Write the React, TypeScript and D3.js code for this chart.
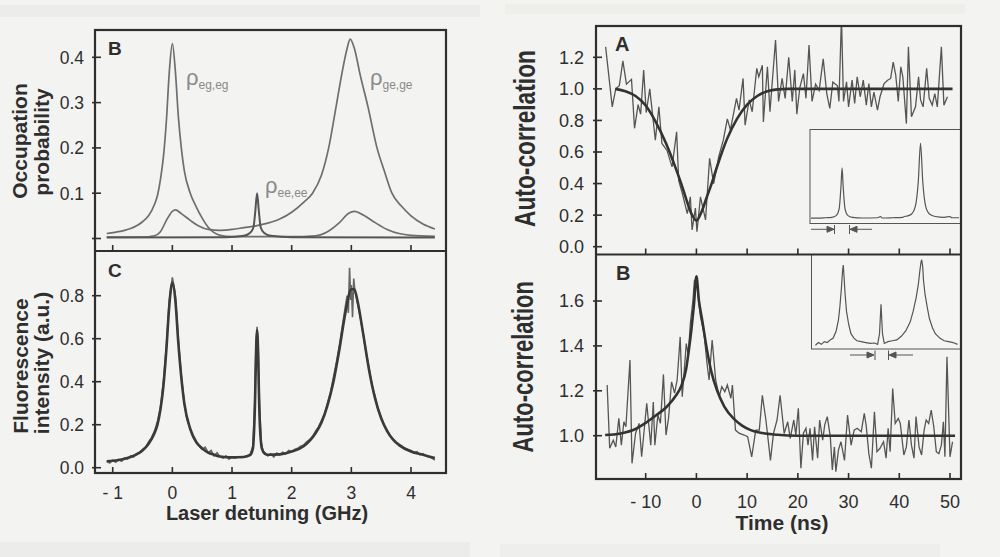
import React from 'react';
import * as d3 from 'd3';

type P = [number, number];

// ---------- Left panel B: occupation probability (x in GHz) ----------
const occEgEg: P[] = [[-1.1,0.011],[-1.0,0.013],[-0.9,0.015],[-0.8,0.018],[-0.7,0.022],[-0.6,0.028],[-0.5,0.037],[-0.4,0.05],[-0.3,0.075],[-0.25,0.095],[-0.2,0.13],[-0.15,0.18],[-0.1,0.26],[-0.05,0.37],[0,0.43],[0.05,0.37],[0.1,0.27],[0.15,0.2],[0.2,0.15],[0.3,0.1],[0.4,0.07],[0.5,0.045],[0.6,0.025],[0.7,0.013],[0.8,0.007],[1.0,0.004],[1.4,0.004],[2.0,0.004],[2.4,0.006],[2.6,0.015],[2.8,0.035],[2.95,0.055],[3.05,0.06],[3.2,0.052],[3.4,0.035],[3.6,0.02],[3.8,0.011],[4.0,0.007],[4.4,0.005]];
const occGeGe: P[] = [[-1.1,0.003],[-0.5,0.003],[-0.3,0.006],[-0.2,0.015],[-0.1,0.04],[0,0.06],[0.05,0.063],[0.15,0.055],[0.3,0.04],[0.45,0.027],[0.6,0.02],[0.8,0.018],[1.0,0.02],[1.2,0.024],[1.4,0.028],[1.6,0.034],[1.8,0.043],[2.0,0.058],[2.2,0.08],[2.35,0.1],[2.5,0.14],[2.62,0.2],[2.73,0.28],[2.85,0.37],[2.93,0.42],[2.98,0.44],[3.05,0.42],[3.15,0.36],[3.28,0.29],[3.43,0.2],[3.55,0.15],[3.68,0.1],[3.85,0.07],[4.0,0.05],[4.2,0.032],[4.4,0.021]];
const occEeEe: P[] = [[-1.1,0.002],[0.9,0.003],[1.2,0.006],[1.3,0.012],[1.36,0.025],[1.39,0.06],[1.42,0.1],[1.45,0.06],[1.48,0.025],[1.54,0.012],[1.65,0.006],[2.0,0.003],[4.4,0.002]];

// ---------- Left panel C: fluorescence ----------
const fluorFit: P[] = [[-1.1,0.03],[-1.0,0.032],[-0.9,0.036],[-0.8,0.042],[-0.7,0.05],[-0.6,0.062],[-0.5,0.08],[-0.4,0.11],[-0.3,0.16],[-0.25,0.2],[-0.2,0.27],[-0.15,0.38],[-0.1,0.55],[-0.05,0.76],[0,0.86],[0.05,0.78],[0.1,0.58],[0.15,0.42],[0.2,0.3],[0.3,0.18],[0.4,0.12],[0.5,0.09],[0.6,0.07],[0.7,0.06],[0.8,0.052],[1.0,0.048],[1.2,0.05],[1.3,0.058],[1.35,0.09],[1.38,0.25],[1.41,0.6],[1.42,0.64],[1.43,0.6],[1.46,0.25],[1.5,0.09],[1.55,0.065],[1.6,0.06],[1.8,0.062],[2.0,0.075],[2.2,0.1],[2.3,0.125],[2.4,0.16],[2.5,0.21],[2.6,0.29],[2.7,0.4],[2.8,0.55],[2.9,0.72],[3.0,0.83],[3.05,0.83],[3.1,0.78],[3.2,0.62],[3.3,0.45],[3.4,0.32],[3.5,0.23],[3.6,0.17],[3.7,0.13],[3.8,0.105],[4.0,0.075],[4.2,0.06],[4.4,0.045]];
const fluorData: P[] = [[-1.1,0.03],[-1.05,0.022],[-1.0,0.035],[-0.95,0.025],[-0.9,0.038],[-0.85,0.03],[-0.8,0.045],[-0.75,0.04],[-0.7,0.055],[-0.65,0.05],[-0.6,0.065],[-0.55,0.07],[-0.5,0.085],[-0.45,0.095],[-0.4,0.12],[-0.35,0.14],[-0.3,0.17],[-0.25,0.215],[-0.2,0.28],[-0.15,0.4],[-0.1,0.57],[-0.05,0.78],[0,0.885],[0.03,0.84],[0.05,0.8],[0.1,0.6],[0.15,0.43],[0.2,0.3],[0.25,0.22],[0.3,0.18],[0.35,0.14],[0.4,0.115],[0.45,0.1],[0.5,0.085],[0.55,0.095],[0.6,0.07],[0.65,0.08],[0.7,0.055],[0.75,0.07],[0.8,0.05],[0.85,0.045],[0.9,0.055],[0.95,0.04],[1.0,0.05],[1.05,0.045],[1.1,0.052],[1.15,0.048],[1.2,0.05],[1.25,0.055],[1.3,0.06],[1.35,0.1],[1.38,0.3],[1.4,0.55],[1.42,0.655],[1.44,0.55],[1.46,0.3],[1.49,0.12],[1.52,0.075],[1.55,0.07],[1.6,0.055],[1.65,0.065],[1.7,0.05],[1.75,0.068],[1.8,0.06],[1.85,0.072],[1.9,0.065],[1.95,0.08],[2.0,0.075],[2.05,0.085],[2.1,0.09],[2.15,0.1],[2.2,0.105],[2.25,0.12],[2.3,0.13],[2.35,0.145],[2.4,0.17],[2.45,0.19],[2.5,0.22],[2.55,0.25],[2.6,0.3],[2.65,0.35],[2.7,0.42],[2.75,0.49],[2.8,0.57],[2.85,0.66],[2.9,0.75],[2.93,0.8],[2.95,0.72],[2.97,0.93],[2.99,0.78],[3.0,0.85],[3.02,0.7],[3.04,0.88],[3.06,0.82],[3.08,0.8],[3.1,0.77],[3.15,0.7],[3.2,0.62],[3.25,0.53],[3.3,0.46],[3.35,0.38],[3.4,0.33],[3.45,0.27],[3.5,0.235],[3.55,0.2],[3.6,0.175],[3.65,0.15],[3.7,0.135],[3.75,0.12],[3.8,0.11],[3.85,0.1],[3.9,0.09],[3.95,0.085],[4.0,0.08],[4.05,0.07],[4.1,0.075],[4.15,0.06],[4.2,0.065],[4.25,0.055],[4.3,0.05],[4.35,0.045],[4.4,0.035]];

// ---------- Right panel A: auto-correlation (t in ns) ----------
const acAData: P[] = [[-17.9,1.266],[-16.6,0.886],[-15.9,1.0],[-15.2,1.02],[-14.5,1.177],[-13.8,1.03],[-12.8,1.06],[-12.2,0.75],[-11.5,0.9],[-11.0,0.84],[-10.4,1.12],[-9.9,0.85],[-9.2,1.0],[-8.1,0.675],[-7.4,0.886],[-6.8,0.654],[-5.8,0.61],[-4.8,0.506],[-3.9,0.728],[-3.5,0.42],[-2.8,0.34],[-1.8,0.21],[-1.2,0.316],[-0.85,0.106],[-0.2,0.245],[0.1,0.095],[0.8,0.316],[1.8,0.17],[2.6,0.56],[3.4,0.4],[4.4,0.57],[5.3,0.675],[6.1,0.81],[6.7,0.74],[7.9,0.94],[8.4,0.865],[9.2,1.066],[9.6,0.77],[10.4,0.93],[11.0,0.855],[11.9,1.13],[12.3,1.076],[13.0,1.15],[13.2,0.79],[14.0,1.14],[14.5,0.855],[15.6,1.31],[16.2,0.92],[16.9,1.066],[17.5,0.94],[18.2,1.2],[18.9,0.92],[19.4,1.12],[19.8,0.84],[20.4,1.01],[21.1,1.097],[21.6,0.94],[22.2,1.277],[22.8,0.92],[23.5,1.03],[24.2,0.99],[25.0,1.19],[25.7,0.97],[26.3,0.876],[26.9,1.044],[27.8,1.02],[28.1,0.92],[28.6,1.45],[29.0,0.92],[29.6,1.044],[30.0,0.886],[30.7,1.055],[31.2,0.907],[31.7,1.076],[32.3,0.95],[32.9,1.055],[33.5,0.897],[34.0,1.034],[34.5,0.886],[35.0,0.98],[35.7,0.865],[36.2,0.95],[37.0,1.034],[37.7,1.055],[38.3,1.066],[38.8,1.17],[39.3,1.087],[39.8,0.92],[40.3,1.14],[40.7,1.076],[41.4,0.78],[41.8,1.266],[42.4,0.823],[43.2,0.886],[43.8,1.076],[44.2,0.93],[44.7,0.886],[45.4,1.13],[45.9,0.94],[46.5,0.897],[47.0,0.97],[47.5,0.886],[48.3,1.266],[48.8,0.897],[49.5,0.95]];
const acAFit: P[] = [[-16,1.0],[-14,0.985],[-12,0.955],[-10,0.895],[-8,0.79],[-6,0.655],[-4,0.49],[-3,0.4],[-2,0.3],[-1,0.21],[0,0.165],[1,0.22],[2,0.31],[3,0.4],[4,0.5],[6,0.68],[8,0.81],[10,0.9],[12,0.955],[14,0.985],[16,0.997],[18,1.0],[50.5,1.0]];

// ---------- Right panel B ----------
const acBData: P[] = [[-17.6,1.226],[-17.1,0.944],[-16.4,0.98],[-15.9,0.95],[-15.3,1.077],[-14.8,0.958],[-14.3,1.062],[-13.9,1.04],[-13.1,1.337],[-12.7,0.877],[-12.0,1.01],[-11.3,1.055],[-10.8,0.906],[-9.8,1.144],[-9.0,0.958],[-8.5,1.15],[-8.2,0.958],[-7.6,1.092],[-7.1,1.055],[-6.5,1.273],[-6.0,1.003],[-5.5,1.077],[-4.9,1.24],[-4.3,1.19],[-3.8,1.248],[-3.2,1.44],[-2.8,1.174],[-2.4,1.29],[-2.0,1.41],[-1.6,1.36],[-1.2,1.5],[-0.7,1.6],[-0.4,1.69],[0,1.7],[0.3,1.63],[0.8,1.53],[1.5,1.456],[2.1,1.32],[2.5,1.248],[3.1,1.426],[3.8,1.248],[4.5,1.174],[5.0,1.218],[5.6,1.196],[6.1,1.226],[6.8,1.167],[7.1,1.226],[7.7,1.025],[8.4,1.011],[9.4,1.003],[10.1,0.996],[10.9,0.906],[11.7,1.025],[12.4,1.025],[13.0,1.18],[13.7,1.07],[14.6,0.89],[15.2,1.011],[15.9,1.07],[16.5,1.18],[17.3,1.01],[18.0,1.062],[18.5,0.988],[19.2,1.07],[19.6,1.003],[20.1,1.122],[20.6,0.855],[21.1,1.011],[21.6,1.033],[22.0,0.958],[22.4,1.033],[22.9,0.89],[23.3,1.04],[23.9,0.9],[24.3,1.07],[24.9,0.98],[25.3,1.048],[25.8,1.085],[26.4,0.996],[26.8,0.847],[27.2,0.95],[27.5,0.84],[28.0,0.936],[28.5,0.973],[29.2,0.89],[29.8,1.092],[30.5,0.958],[31.1,1.025],[31.7,1.033],[32.5,1.018],[33.1,1.1],[33.5,1.04],[34.0,0.92],[34.5,0.855],[35.1,1.107],[35.6,0.929],[36.2,0.944],[36.9,0.973],[37.4,0.9],[37.8,1.033],[38.2,0.929],[38.7,1.21],[39.2,1.055],[39.8,1.077],[40.2,1.055],[40.9,0.914],[41.4,0.95],[41.9,1.07],[42.4,0.958],[42.9,0.9],[43.3,1.085],[43.9,0.95],[44.4,0.914],[44.9,1.025],[45.3,1.07],[45.8,1.055],[46.3,1.114],[46.8,1.04],[47.3,0.929],[47.8,0.92],[48.3,0.958],[48.7,1.062],[49.0,0.906],[49.4,1.352],[50.0,0.906],[50.5,0.973]];
const acBFit: P[] = [[-18,1.003],[-15,1.01],[-12,1.03],[-9.7,1.062],[-8,1.09],[-5.8,1.13],[-4,1.18],[-3,1.22],[-2,1.3],[-1.5,1.38],[-1,1.47],[-0.5,1.58],[0,1.71],[0.5,1.6],[1.1,1.52],[2.1,1.38],[3,1.28],[4.1,1.2],[5.5,1.13],[7.4,1.075],[9,1.045],[10.7,1.025],[13,1.012],[16,1.004],[20,1.0],[51,1.0]];

// ---------- Insets (arbitrary units, 0-100 across, 0-1 up) ----------
const insetA: P[] = [[0,0.01],[5,0.01],[10,0.015],[14,0.02],[17,0.04],[19,0.12],[20.3,0.4],[21,0.61],[21.7,0.4],[23,0.12],[25,0.04],[28,0.02],[35,0.012],[45,0.015],[47,0.03],[48,0.012],[55,0.015],[62,0.02],[63,0.03],[65,0.035],[68,0.06],[70.5,0.15],[72.5,0.45],[74,0.9],[75.5,0.45],[77.5,0.15],[80,0.06],[84,0.03],[90,0.02],[94,0.03],[95,0.015],[100,0.015]];
const insetB: P[] = [[3,0.02],[5,0.05],[7,0.03],[9,0.06],[11,0.05],[13,0.08],[15,0.1],[17,0.18],[18.5,0.3],[19.5,0.45],[20.5,0.65],[21.3,0.85],[21.8,0.92],[22.3,0.8],[23,0.6],[24,0.4],[25.5,0.25],[27,0.15],[29,0.1],[31,0.07],[34,0.06],[37,0.05],[40,0.04],[43,0.045],[45,0.03],[46.3,0.15],[47.3,0.48],[48.3,0.15],[49.5,0.04],[52,0.06],[55,0.07],[58,0.08],[61,0.12],[64,0.18],[67,0.28],[69,0.4],[71,0.55],[72.5,0.7],[73.5,0.85],[74.3,0.95],[74.8,0.98],[75.5,0.9],[76,0.75],[77,0.6],[78.5,0.45],[80,0.32],[82,0.22],[84,0.15],[87,0.1],[90,0.07],[93,0.06],[96,0.05],[99,0.03]];

// ---------- Ticks ----------
const detuningTicks = [-1, 0, 1, 2, 3, 4];
const detuningLabels = ['- 1', '0', '1', '2', '3', '4'];
const occTicks = [0, 0.1, 0.2, 0.3, 0.4];
const occLabels = ['', '0.1', '0.2', '0.3', '0.4'];
const fluorTicks = [0, 0.2, 0.4, 0.6, 0.8];
const fluorLabels = ['0.0', '0.2', '0.4', '0.6', '0.8'];
const timeTicks = [-10, 0, 10, 20, 30, 40, 50];
const timeLabels = ['- 10', '0', '10', '20', '30', '40', '50'];
const acATicks = [0, 0.2, 0.4, 0.6, 0.8, 1.0, 1.2];
const acALabels = ['0.0', '0.2', '0.4', '0.6', '0.8', '1.0', '1.2'];
const acBTicks = [1.0, 1.2, 1.4, 1.6];
const acBLabels = ['1.0', '1.2', '1.4', '1.6'];

const SANS = 'Liberation Sans, Arial, Helvetica, sans-serif';
const INK = '#2e2e2e';

export default function App() {
  const L = { x0: 95, x1: 446, yTop: 30, yMid: 251, yBot: 473 };
  const R = { x0: 596, x1: 961, yTop: 26, yMid: 254.5, yBot: 479 };

  const xL = d3.scaleLinear().domain([-1, 4]).range([112.7, 411]);
  const yOcc = d3.scaleLinear().domain([0, 0.4]).range([238.5, 57.3]);
  const yFl = d3.scaleLinear().domain([0, 0.8]).range([467.7, 295.7]);
  const xR = d3.scaleLinear().domain([-10, 50]).range([645.7, 950]);
  const yA = d3.scaleLinear().domain([0, 1.2]).range([246.7, 57.3]);
  const yB = d3.scaleLinear().domain([1.0, 1.6]).range([435.7, 301]);
  const xInA = d3.scaleLinear().domain([0, 100]).range([811, 959]);
  const yInA = d3.scaleLinear().domain([0, 1]).range([219, 135]);
  const xInB = d3.scaleLinear().domain([0, 100]).range([811, 959]);
  const yInB = d3.scaleLinear().domain([0, 1]).range([347, 258]);

  const mk = (xs: d3.ScaleLinear<number, number>, ys: d3.ScaleLinear<number, number>, smooth: boolean) =>
    d3.line<P>().x(d => xs(d[0])).y(d => ys(d[1])).curve(smooth ? d3.curveMonotoneX : d3.curveLinear);

  const yTicksEl = (vals: number[], labels: string[], ys: d3.ScaleLinear<number, number>, x0: number, lx: number, fs: number, key: string) =>
    vals.map((v, i) => (
      <g key={key + i}>
        <line x1={x0 - 3} x2={x0 + 6} y1={ys(v)} y2={ys(v)} stroke={INK} strokeWidth={1.6} />
        {labels[i] && (
          <text x={lx} y={ys(v)} dy="0.36em" textAnchor="end" fontSize={fs} fontFamily={SANS} fill={INK}>{labels[i]}</text>
        )}
      </g>
    ));

  const xTickMarks = (vals: number[], xs: d3.ScaleLinear<number, number>, y: number, key: string) =>
    vals.map((v, i) => (
      <line key={key + i} x1={xs(v)} x2={xs(v)} y1={y} y2={y - 6} stroke={INK} strokeWidth={1.6} />
    ));

  const rho = (x: number, y: number, sub: string) => (
    <text x={x} y={y} fontFamily={SANS} fill="#8a8a8a">
      <tspan fontSize={22}>ρ</tspan>
      <tspan fontSize={12} dy={4}>{sub}</tspan>
    </text>
  );

  return (
    <svg width={1000} height={557} viewBox="0 0 1000 557" style={{ position: 'absolute', left: 0, top: 0, background: '#f3f3f1' }}>
      <defs>
        <clipPath id="clipLB"><rect x={L.x0} y={L.yTop} width={L.x1 - L.x0} height={L.yMid - L.yTop} /></clipPath>
        <clipPath id="clipLC"><rect x={L.x0} y={L.yMid} width={L.x1 - L.x0} height={L.yBot - L.yMid} /></clipPath>
        <clipPath id="clipRA"><rect x={R.x0} y={R.yTop} width={R.x1 - R.x0} height={R.yMid - R.yTop} /></clipPath>
        <clipPath id="clipRB"><rect x={R.x0} y={R.yMid} width={R.x1 - R.x0} height={R.yBot - R.yMid} /></clipPath>
      </defs>
      <rect x={0} y={0} width={1000} height={557} fill="#f3f3f1" />
      <rect x={0} y={5} width={480} height={12} fill="#e4e4e2" opacity={0.45} />
      <rect x={505} y={4} width={460} height={10} fill="#e6e6e4" opacity={0.4} />
      <rect x={0} y={542} width={470} height={15} fill="#e4e4e2" opacity={0.45} />
      <rect x={500} y={544} width={440} height={13} fill="#e7e7e5" opacity={0.4} />

      {/* ===== Left B ===== */}
      <g clipPath="url(#clipLB)" fill="none" stroke="#6e6e6e" strokeWidth={1.7}>
        <path d={mk(xL, yOcc, true)(occGeGe)!} />
        <path d={mk(xL, yOcc, true)(occEgEg)!} />
        <path d={mk(xL, yOcc, true)(occEeEe)!} strokeWidth={2} stroke="#555" />
      </g>
      {rho(186, 85, 'eg,eg')}
      {rho(265, 193, 'ee,ee')}
      {rho(370, 85, 'ge,ge')}
      <text x={108} y={55} fontSize={19} fontWeight="bold" fontFamily={SANS} fill={INK}>B</text>
      {yTicksEl(occTicks, occLabels, yOcc, L.x0, 84, 17.5, 'ob')}
      {xTickMarks(detuningTicks, xL, L.yMid, 'lbx')}

      {/* ===== Left C ===== */}
      <g clipPath="url(#clipLC)" fill="none">
        <path d={mk(xL, yFl, false)(fluorData)!} stroke="#666" strokeWidth={1.6} />
        <path d={mk(xL, yFl, true)(fluorFit)!} stroke="#3a3a3a" strokeWidth={2.6} />
      </g>
      <text x={108} y={277} fontSize={19} fontWeight="bold" fontFamily={SANS} fill={INK}>C</text>
      {yTicksEl(fluorTicks, fluorLabels, yFl, L.x0, 84, 17.5, 'fc')}
      {xTickMarks(detuningTicks, xL, L.yBot, 'lcx')}
      {detuningTicks.map((v, i) => (
        <text key={'dl' + i} x={xL(v)} y={498.5} textAnchor="middle" fontSize={17.5} fontFamily={SANS} fill={INK}>{detuningLabels[i]}</text>
      ))}
      <text x={267} y={520} textAnchor="middle" fontSize={20} fontWeight="bold" fontFamily={SANS} fill={INK}>Laser detuning (GHz)</text>

      <rect x={L.x0} y={L.yTop} width={L.x1 - L.x0} height={L.yBot - L.yTop} fill="none" stroke={INK} strokeWidth={2.2} />
      <line x1={L.x0} x2={L.x1} y1={L.yMid} y2={L.yMid} stroke={INK} strokeWidth={2.2} />

      <g fontFamily={SANS} fontWeight="bold" fontSize={21} fill={INK} textAnchor="middle">
        <text transform="translate(27,141) rotate(-90)">Occupation</text>
        <text transform="translate(49,142) rotate(-90)">probability</text>
        <text transform="translate(28,366) rotate(-90)">Fluorescence</text>
        <text transform="translate(49,363) rotate(-90)">intensity (a.u.)</text>
      </g>

      {/* ===== Right A ===== */}
      <g clipPath="url(#clipRA)" fill="none">
        <path d={mk(xR, yA, false)(acAData)!} stroke="#555" strokeWidth={1.3} />
        <path d={mk(xR, yA, true)(acAFit)!} stroke="#333" strokeWidth={2.6} />
      </g>
      <text x={615} y={51} fontSize={20} fontWeight="bold" fontFamily={SANS} fill={INK}>A</text>
      {yTicksEl(acATicks, acALabels, yA, R.x0, 584, 18, 'ra')}
      {xTickMarks(timeTicks, xR, R.yMid, 'rax')}
      <rect x={810} y={129.5} width={151} height={94} fill="#f5f5f3" stroke="#555" strokeWidth={1} />
      <path d={mk(xInA, yInA, true)(insetA)!} fill="none" stroke="#555" strokeWidth={1.2} />
      <g stroke="#555" strokeWidth={1} fill="#555">
        <line x1={811} x2={832} y1={229.3} y2={229.3} />
        <path d="M834,229.3 l-7,-3 v6 z" />
        <line x1={834.5} x2={834.5} y1={225} y2={234} />
        <line x1={849.5} x2={849.5} y1={225} y2={234} />
        <path d="M850,229.3 l7,-3 v6 z" />
        <line x1={852} x2={872} y1={229.3} y2={229.3} />
      </g>

      {/* ===== Right B ===== */}
      <g clipPath="url(#clipRB)" fill="none">
        <path d={mk(xR, yB, false)(acBData)!} stroke="#555" strokeWidth={1.3} />
        <path d={mk(xR, yB, true)(acBFit)!} stroke="#333" strokeWidth={2.6} />
      </g>
      <text x={616} y={280} fontSize={20} fontWeight="bold" fontFamily={SANS} fill={INK}>B</text>
      {yTicksEl(acBTicks, acBLabels, yB, R.x0, 584, 18, 'rb')}
      {xTickMarks(timeTicks, xR, R.yBot, 'rbx')}
      <rect x={811.5} y={254.5} width={149.5} height={94.5} fill="#f5f5f3" stroke="#555" strokeWidth={1} />
      <path d={mk(xInB, yInB, false)(insetB)!} fill="none" stroke="#555" strokeWidth={1.2} />
      <g stroke="#555" strokeWidth={1} fill="#555">
        <line x1={850} x2={872} y1={355} y2={355} />
        <path d="M874,355 l-7,-3 v6 z" />
        <line x1={875} x2={875} y1={350.5} y2={360} />
        <line x1={888.5} x2={888.5} y1={350.5} y2={360} />
        <path d="M889,355 l7,-3 v6 z" />
        <line x1={891} x2={913} y1={355} y2={355} />
      </g>

      {timeTicks.map((v, i) => (
        <text key={'tl' + i} x={xR(v)} y={508} textAnchor="middle" fontSize={18} fontFamily={SANS} fill={INK}>{timeLabels[i]}</text>
      ))}
      <text x={782} y={530} textAnchor="middle" fontSize={21} fontWeight="bold" fontFamily={SANS} fill={INK}>Time (ns)</text>

      <rect x={R.x0} y={R.yTop} width={R.x1 - R.x0} height={R.yBot - R.yTop} fill="none" stroke={INK} strokeWidth={2.2} />
      <line x1={R.x0} x2={R.x1} y1={R.yMid} y2={R.yMid} stroke={INK} strokeWidth={2.2} />

      <g fontFamily={SANS} fontWeight="bold" fontSize={29} fill={INK} textAnchor="middle">
        <text transform="translate(535,138.5) rotate(-90) scale(0.785,1)">Auto-correlation</text>
        <text transform="translate(533,366.7) rotate(-90) scale(0.76,1)">Auto-correlation</text>
      </g>
    </svg>
  );
}
